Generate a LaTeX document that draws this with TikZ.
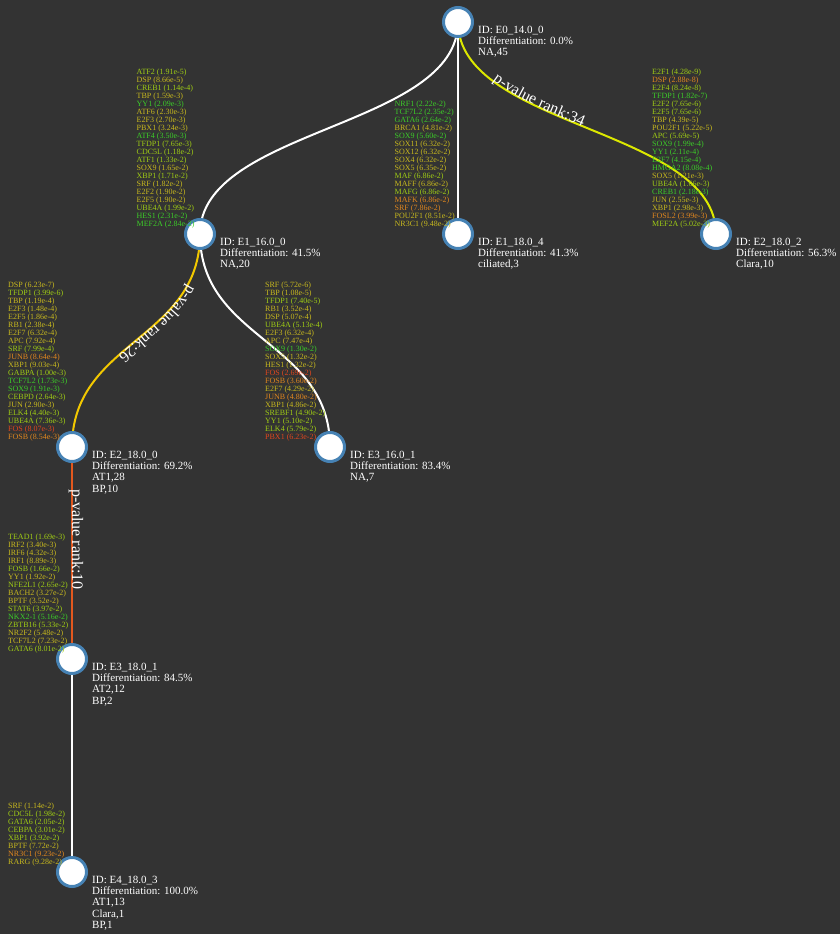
\documentclass[tikz,border=0pt]{standalone}
\usepackage{fontspec}
\setmainfont{Liberation Serif}
\usetikzlibrary{decorations.text}
\pgfdeclarelayer{bglayer}
\pgfdeclarelayer{edgelayer}
\pgfsetlayers{bglayer,edgelayer,main}
\definecolor{bgc}{RGB}{51,51,51}
\definecolor{nodeblue}{RGB}{70,130,180}
\definecolor{rk34}{RGB}{220,232,0}
\definecolor{rk26}{RGB}{242,200,0}
\definecolor{rk10}{RGB}{226,88,30}
\definecolor{lgrn}{RGB}{60,205,40}
\definecolor{lyg}{RGB}{160,205,20}
\definecolor{lolv}{RGB}{200,185,30}
\definecolor{lorg}{RGB}{225,135,30}
\definecolor{lred}{RGB}{225,70,30}
\newcommand{\Gn}[1]{\textcolor{lgrn}{#1}}
\newcommand{\Yg}[1]{\textcolor{lyg}{#1}}
\newcommand{\Ol}[1]{\textcolor{lolv}{#1}}
\newcommand{\Or}[1]{\textcolor{lorg}{#1}}
\newcommand{\Rd}[1]{\textcolor{lred}{#1}}
\newcommand{\rankfont}{\fontsize{16}{16}\selectfont\color{white}}
\tikzset{
  vtx/.style={circle, draw=nodeblue, line width=3pt, fill=white, minimum size=29pt, inner sep=0pt},
  lbl/.style={anchor=north west, inner sep=0pt, align=left, text=white, font=\fontsize{11}{11.2}\selectfont},
  tflist/.style={anchor=south west, inner sep=0pt, align=left, font=\fontsize{8}{8}\selectfont},
  edgew/.style={draw=white, line width=2pt},
}
\begin{document}
\begin{tikzpicture}[x=1pt, y=-1pt]
\begin{pgfonlayer}{bglayer}
\fill[bgc] (0,0) rectangle (840,934);
\end{pgfonlayer}
\useasboundingbox (0,0) rectangle (840,934);

% nodes
\node[vtx] (n0) at (458,22) {};
\node[vtx] (n1) at (200,234) {};
\node[vtx] (n2) at (458,234) {};
\node[vtx] (n3) at (716,234) {};
\node[vtx] (n4) at (72,447) {};
\node[vtx] (n5) at (330,447) {};
\node[vtx] (n6) at (72,659) {};
\node[vtx] (n7) at (72,872) {};

% labels
\node[lbl] (l0) at (478,26) {ID: E0\_14.0\_0\\Differentiation: 0.0\%\\NA,45};
\node[lbl] (l1) at (220,238) {ID: E1\_16.0\_0\\Differentiation: 41.5\%\\NA,20};
\node[lbl] (l2) at (478,238) {ID: E1\_18.0\_4\\Differentiation: 41.3\%\\ciliated,3};
\node[lbl] (l3) at (736,238) {ID: E2\_18.0\_2\\Differentiation: 56.3\%\\Clara,10};
\node[lbl] (l4) at (92,451) {ID: E2\_18.0\_0\\Differentiation: 69.2\%\\AT1,28\\BP,10};
\node[lbl] (l5) at (350,451) {ID: E3\_16.0\_1\\Differentiation: 83.4\%\\NA,7};
\node[lbl] (l6) at (92,663) {ID: E3\_18.0\_1\\Differentiation: 84.5\%\\AT2,12\\BP,2};
\node[lbl] (l7) at (92,876) {ID: E4\_18.0\_3\\Differentiation: 100.0\%\\AT1,13\\Clara,1\\BP,1};

% edges
\begin{pgfonlayer}{edgelayer}
\draw[edgew] (n0.center) .. controls +(0,106) and +(0,-106) .. (n1.center);
\draw[edgew] (n0.center) -- (n2.center);
\draw[draw=rk34, line width=2pt] (n0.center) .. controls +(0,106) and +(0,-106) .. (n3.center);
\draw[draw=rk26, line width=2pt] (n1.center) .. controls +(0,106.5) and +(0,-106.5) .. (n4.center);
\draw[edgew] (n1.center) .. controls +(0,106.5) and +(0,-106.5) .. (n5.center);
\draw[draw=rk10, line width=2pt] (n4.center) -- (n6.center);
\draw[edgew] (n6.center) -- (n7.center);
\path[decorate, decoration={text along path, text={|\rankfont|p-value rank:34}, text align={left indent=71pt}}]
  (n0.center) .. controls +(0,106) and +(0,-106) .. (n3.center);
\path[decorate, decoration={text along path, text={|\rankfont|p-value rank:26}, text align={left indent=52pt}}]
  (n1.center) .. controls +(0,106.5) and +(0,-106.5) .. (n4.center);
\path[decorate, decoration={text along path, text={|\rankfont|p-value rank:10}, text align={left indent=42pt}}]
  (n4.center) -- (n6.center);
\end{pgfonlayer}

% TF lists
\node[tflist] (t1) at (136.5,228.5) {\Yg{ATF2 (1.91e-5)}\\\Ol{DSP (8.66e-5)}\\\Yg{CREB1 (1.14e-4)}\\\Ol{TBP (1.59e-3)}\\\Gn{YY1 (2.09e-3)}\\\Ol{ATF6 (2.30e-3)}\\\Ol{E2F3 (2.70e-3)}\\\Ol{PBX1 (3.24e-3)}\\\Gn{ATF4 (3.50e-3)}\\\Yg{TFDP1 (7.65e-3)}\\\Yg{CDC5L (1.18e-2)}\\\Yg{ATF1 (1.33e-2)}\\\Ol{SOX9 (1.65e-2)}\\\Yg{XBP1 (1.71e-2)}\\\Ol{SRF (1.82e-2)}\\\Ol{E2F2 (1.90e-2)}\\\Ol{E2F5 (1.90e-2)}\\\Yg{UBE4A (1.99e-2)}\\\Gn{HES1 (2.31e-2)}\\\Gn{MEF2A (2.84e-2)}};

\node[tflist] (t2) at (394.5,228.5) {\Gn{NRF1 (2.22e-2)}\\\Gn{TCF7L2 (2.35e-2)}\\\Gn{GATA6 (2.64e-2)}\\\Ol{BRCA1 (4.81e-2)}\\\Gn{SOX9 (5.60e-2)}\\\Ol{SOX11 (6.32e-2)}\\\Ol{SOX12 (6.32e-2)}\\\Ol{SOX4 (6.32e-2)}\\\Ol{SOX5 (6.35e-2)}\\\Yg{MAF (6.86e-2)}\\\Ol{MAFF (6.86e-2)}\\\Yg{MAFG (6.86e-2)}\\\Or{MAFK (6.86e-2)}\\\Or{SRF (7.86e-2)}\\\Ol{POU2F1 (8.51e-2)}\\\Ol{NR3C1 (9.48e-2)}};

\node[tflist] (t3) at (652,228.5) {\Yg{E2F1 (4.28e-9)}\\\Or{DSP (2.88e-8)}\\\Yg{E2F4 (8.24e-8)}\\\Gn{TFDP1 (1.82e-7)}\\\Yg{E2F2 (7.65e-6)}\\\Yg{E2F5 (7.65e-6)}\\\Ol{TBP (4.39e-5)}\\\Ol{POU2F1 (5.22e-5)}\\\Yg{APC (5.69e-5)}\\\Gn{SOX9 (1.99e-4)}\\\Gn{YY1 (2.11e-4)}\\\Gn{E2F7 (4.15e-4)}\\\Gn{HMGA2 (8.08e-4)}\\\Ol{SOX5 (1.21e-3)}\\\Yg{UBE4A (1.66e-3)}\\\Gn{CREB1 (2.18e-3)}\\\Ol{JUN (2.55e-3)}\\\Ol{XBP1 (2.98e-3)}\\\Or{FOSL2 (3.99e-3)}\\\Yg{MEF2A (5.02e-3)}};

\node[tflist] (t4) at (8,441.5) {\Ol{DSP (6.23e-7)}\\\Yg{TFDP1 (3.99e-6)}\\\Ol{TBP (1.19e-4)}\\\Ol{E2F3 (1.48e-4)}\\\Ol{E2F5 (1.86e-4)}\\\Ol{RB1 (2.38e-4)}\\\Ol{E2F7 (6.32e-4)}\\\Ol{APC (7.92e-4)}\\\Yg{SRF (7.99e-4)}\\\Or{JUNB (8.64e-4)}\\\Ol{XBP1 (9.03e-4)}\\\Yg{GABPA (1.00e-3)}\\\Gn{TCF7L2 (1.73e-3)}\\\Gn{SOX9 (1.91e-3)}\\\Yg{CEBPD (2.64e-3)}\\\Ol{JUN (2.90e-3)}\\\Yg{ELK4 (4.40e-3)}\\\Yg{UBE4A (7.36e-3)}\\\Rd{FOS (8.07e-3)}\\\Or{FOSB (8.54e-3)}};

\node[tflist] (t5) at (265,441.5) {\Ol{SRF (5.72e-6)}\\\Ol{TBP (1.08e-5)}\\\Yg{TFDP1 (7.40e-5)}\\\Ol{RB1 (3.52e-4)}\\\Ol{DSP (5.07e-4)}\\\Yg{UBE4A (5.13e-4)}\\\Ol{E2F3 (6.32e-4)}\\\Ol{APC (7.47e-4)}\\\Gn{SOX9 (1.30e-2)}\\\Ol{SOX5 (1.32e-2)}\\\Ol{HES1 (1.32e-2)}\\\Rd{FOS (2.69e-2)}\\\Or{FOSB (3.60e-2)}\\\Ol{E2F7 (4.29e-2)}\\\Or{JUNB (4.80e-2)}\\\Ol{XBP1 (4.86e-2)}\\\Yg{SREBF1 (4.90e-2)}\\\Yg{YY1 (5.10e-2)}\\\Yg{ELK4 (5.79e-2)}\\\Rd{PBX1 (6.23e-2)}};

\node[tflist] (t6) at (8,653.5) {\Yg{TEAD1 (1.69e-3)}\\\Ol{IRF2 (3.40e-3)}\\\Ol{IRF6 (4.32e-3)}\\\Ol{IRF1 (8.89e-3)}\\\Yg{FOSB (1.66e-2)}\\\Ol{YY1 (1.92e-2)}\\\Yg{NFE2L1 (2.65e-2)}\\\Ol{BACH2 (3.27e-2)}\\\Ol{BPTF (3.52e-2)}\\\Yg{STAT6 (3.97e-2)}\\\Gn{NKX2-1 (5.16e-2)}\\\Yg{ZBTB16 (5.33e-2)}\\\Ol{NR2F2 (5.48e-2)}\\\Ol{TCF7L2 (7.23e-2)}\\\Yg{GATA6 (8.01e-2)}};

\node[tflist] (t7) at (8,866.5) {\Ol{SRF (1.14e-2)}\\\Yg{CDC5L (1.98e-2)}\\\Yg{GATA6 (2.05e-2)}\\\Yg{CEBPA (3.01e-2)}\\\Yg{XBP1 (3.92e-2)}\\\Ol{BPTF (7.72e-2)}\\\Or{NR3C1 (9.23e-2)}\\\Ol{RARG (9.28e-2)}};
\end{tikzpicture}
\end{document}
